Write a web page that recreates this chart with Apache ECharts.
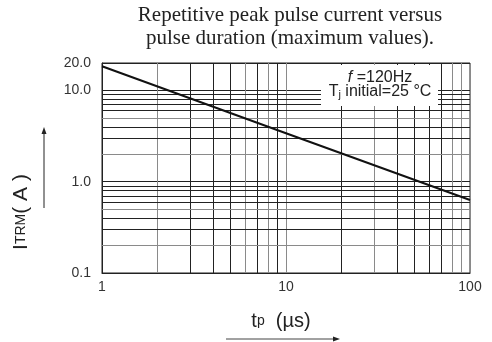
<!DOCTYPE html>
<html><head><meta charset="utf-8">
<script src="https://cdn.jsdelivr.net/npm/echarts@6/dist/echarts.min.js"></script>
<style>html,body{margin:0;padding:0;background:#fff}#c{width:492px;height:342px}</style>
</head><body><div id="c"></div>
<script>
// Data
const pulseDuration = [1, 10, 100];          // tp (µs)
const peakCurrent = [18.4, 3.4, 0.63];       // ITRM (A)
const xMinorDark = [3, 4, 5, 7, 9, 20, 40, 50, 60, 70];
const xMinorGrey = [2, 6, 8, 30, 80, 90];
const yMinorDark = [0.3, 0.4, 0.6, 0.7, 0.8, 0.9, 3, 4, 6, 7, 8, 9];
const yMinorGrey = [0.2, 0.5, 2, 5];
const titleLines = ['Repetitive peak pulse current versus', 'pulse duration (maximum values).'];

const chart = echarts.init(document.getElementById('c'), null, {renderer: 'canvas'});
const DARK = '#222', GREY = '#8a8a8a';
const gridLines = [].concat(
  xMinorDark.map(v => ({xAxis: v, lineStyle: {color: DARK}})),
  xMinorGrey.map(v => ({xAxis: v, lineStyle: {color: GREY}})),
  yMinorDark.map(v => ({yAxis: v, lineStyle: {color: DARK}})),
  yMinorGrey.map(v => ({yAxis: v, lineStyle: {color: GREY}}))
);
const font = '"Liberation Sans", Arial, sans-serif';
const serif = '"Liberation Serif", "Times New Roman", serif';
chart.setOption({
  animation: false,
  grid: {left: 102, right: 22, top: 63, bottom: 69, show: true, borderColor: '#222', borderWidth: 1},
  xAxis: {
    type: 'log', logBase: 10, min: 1, max: 100,
    axisLine: {show: true, lineStyle: {color: '#222', width: 1}},
    axisTick: {show: false},
    axisLabel: {color: '#333', fontSize: 14, fontFamily: font, margin: 7},
    splitLine: {show: true, lineStyle: {color: GREY, width: 1}}
  },
  yAxis: {
    type: 'log', logBase: 10, min: 0.1, max: 20, interval: 1,
    axisLine: {show: true, lineStyle: {color: '#222', width: 1}},
    axisTick: {show: false},
    axisLabel: {color: '#333', fontSize: 14, fontFamily: font, margin: 11,
      showMinLabel: true, showMaxLabel: true,
      formatter: v => Number(v).toFixed(1)},
    splitLine: {show: true, lineStyle: {color: DARK, width: 1}}
  },
  series: [
    {
      type: 'line', data: [], silent: true, z: 1,
      markLine: {silent: true, symbol: 'none', animation: false, label: {show: false},
        lineStyle: {type: 'solid', width: 1}, emphasis: {disabled: true}, data: gridLines}
    },
    {
      type: 'line', z: 5,
      data: pulseDuration.map((x, i) => [x, peakCurrent[i]]),
      showSymbol: false, lineStyle: {color: '#111', width: 2}
    }
  ],
  graphic: [
    {type: 'text', x: 290, y: 15, z: 100, style: {text: titleLines[0], fill: '#222', font: '21px ' + serif, textAlign: 'center', textVerticalAlign: 'middle'}},
    {type: 'text', x: 290, y: 38, z: 100, style: {text: titleLines[1], fill: '#222', font: '21px ' + serif, textAlign: 'center', textVerticalAlign: 'middle'}},
    {type: 'rect', z: 90, shape: {x: 321, y: 65, width: 117, height: 41}, style: {fill: '#fff'}},
    {type: 'text', x: 380, y: 78, z: 100, style: {
      text: '{i|f }{n|=120Hz}', textAlign: 'center', textVerticalAlign: 'middle',
      rich: {i: {fontStyle: 'italic', fontSize: 16, fontFamily: font, fill: '#222'}, n: {fontSize: 16, fontFamily: font, fill: '#222'}}}},
    {type: 'text', x: 380, y: 92, z: 100, style: {
      text: '{n|T}{s|j}{n| initial=25 \u00b0C}', textAlign: 'center', textVerticalAlign: 'middle',
      rich: {n: {fontSize: 16, fontFamily: font, fill: '#222'},
             s: {fontSize: 11, fontFamily: font, fill: '#222', verticalAlign: 'bottom'}}}},
    {type: 'text', x: 21, y: 212, rotation: Math.PI / 2, z: 100, style: {
      text: '{b|I}{s|TRM}{b|( A )}', textAlign: 'center', textVerticalAlign: 'middle',
      rich: {b: {fontSize: 21, fontFamily: font, fill: '#222'}, s: {fontSize: 14, fontFamily: font, fill: '#222'}}}},
    {type: 'line', z: 100, shape: {x1: 44, y1: 208, x2: 44, y2: 132}, style: {stroke: '#222', lineWidth: 1}},
    {type: 'polygon', z: 100, shape: {points: [[44, 127], [41.5, 134], [46.5, 134]]}, style: {fill: '#222'}},
    {type: 'text', x: 281, y: 321, z: 100, style: {
      text: '{b|t}{s|p}{b|  (\u00b5s)}', textAlign: 'center', textVerticalAlign: 'middle',
      rich: {b: {fontSize: 20, fontFamily: font, fill: '#222'}, s: {fontSize: 14, fontFamily: font, fill: '#222'}}}},
    {type: 'line', z: 100, shape: {x1: 226, y1: 339, x2: 334, y2: 339}, style: {stroke: '#444', lineWidth: 1}},
    {type: 'polygon', z: 100, shape: {points: [[340, 339], [333, 336.5], [333, 341.5]]}, style: {fill: '#222'}}
  ]
});
</script></body></html>
